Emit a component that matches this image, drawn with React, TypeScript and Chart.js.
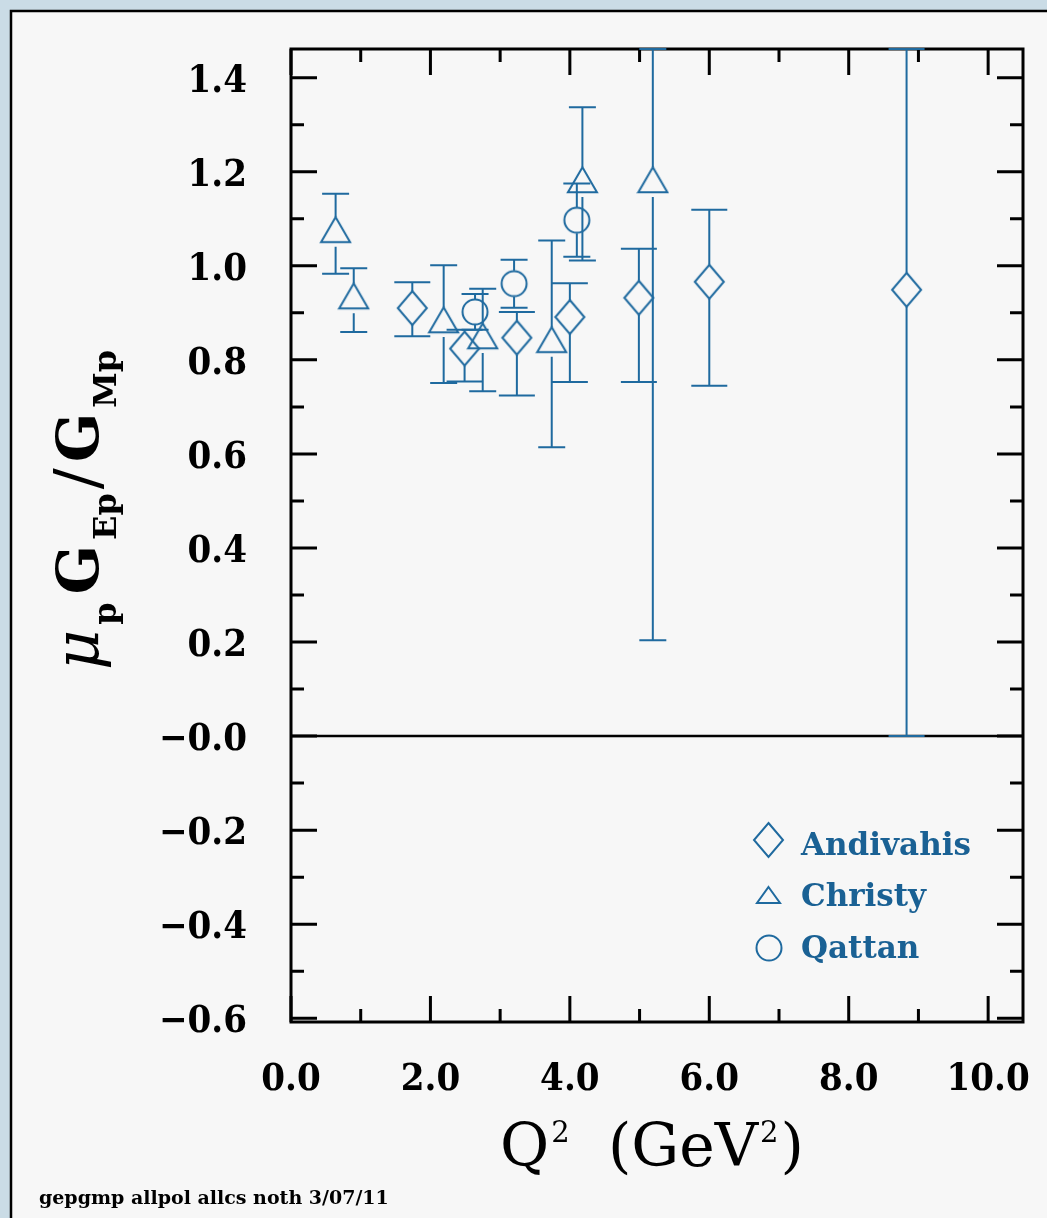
import React, { useEffect, useRef } from "react";
import { Chart, registerables } from "chart.js";

Chart.register(...registerables);

// ---------- data ----------
const andivahisQ2 = [1.74, 2.49, 3.24, 4.0, 4.99, 6.0, 8.83];
const andivahisRatio = [0.91, 0.824, 0.847, 0.891, 0.932, 0.966, 0.949];
const andivahisErrUp = [0.055, 0.04, 0.055, 0.072, 0.104, 0.153, 0.95];
const andivahisErrDown = [0.06, 0.07, 0.123, 0.138, 0.179, 0.221, 0.949];

const christyQ2 = [0.64, 0.9, 2.19, 2.75, 3.74, 4.18, 5.19];
const christyRatio = [1.068, 0.927, 0.876, 0.842, 0.834, 1.174, 1.174];
const christyErr = [0.085, 0.068, 0.125, 0.109, 0.22, 0.163, 0.97];

const qattanQ2 = [2.64, 3.2, 4.1];
const qattanRatio = [0.902, 0.962, 1.097];
const qattanErr = [0.038, 0.051, 0.078];

const seriesNames = ["Andivahis", "Christy", "Qattan"];

const xTickValues = [0, 2, 4, 6, 8, 10];
const xTickLabels = ["0.0", "2.0", "4.0", "6.0", "8.0", "10.0"];
const yTickValues = [-0.6, -0.4, -0.2, 0, 0.2, 0.4, 0.6, 0.8, 1.0, 1.2, 1.4];
const yTickLabels = ["\u22120.6", "\u22120.4", "\u22120.2", "\u22120.0", "0.2", "0.4", "0.6", "0.8", "1.0", "1.2", "1.4"];

const footnote = "gepgmp allpol allcs noth 3/07/11";

// ---------- styles ----------
const BLUE = "#1f6a9f";
const LEGEND_BLUE = "#1a6194";
const TICK_FONT = "bold 38px 'DejaVu Serif Condensed', 'DejaVu Serif', serif";

function pathDiamond(ctx: CanvasRenderingContext2D, cx: number, cy: number, w: number, h: number) {
  ctx.beginPath();
  ctx.moveTo(cx, cy - h / 2);
  ctx.lineTo(cx + w / 2, cy);
  ctx.lineTo(cx, cy + h / 2);
  ctx.lineTo(cx - w / 2, cy);
  ctx.closePath();
}
function pathTriangle(ctx: CanvasRenderingContext2D, cx: number, apexY: number, w: number, h: number) {
  ctx.beginPath();
  ctx.moveTo(cx, apexY);
  ctx.lineTo(cx + w / 2, apexY + h);
  ctx.lineTo(cx - w / 2, apexY + h);
  ctx.closePath();
}

function makeImg(W: number, H: number, draw: (c: CanvasRenderingContext2D) => void) {
  const c = document.createElement("canvas");
  c.width = W;
  c.height = H;
  const ctx = c.getContext("2d")!;
  ctx.strokeStyle = BLUE;
  ctx.lineWidth = 2;
  draw(ctx);
  return c;
}

const framePlugin = {
  id: "frame",
  beforeDraw(chart: any) {
    const ctx = chart.ctx as CanvasRenderingContext2D;
    ctx.save();
    ctx.fillStyle = "#cadce6";
    ctx.fillRect(0, 0, chart.width, chart.height);
    ctx.fillStyle = "#f7f7f7";
    ctx.fillRect(11, 11, chart.width - 11, chart.height - 11);
    ctx.strokeStyle = "#000";
    ctx.lineWidth = 2.5;
    ctx.beginPath();
    ctx.moveTo(11, chart.height);
    ctx.lineTo(11, 11);
    ctx.lineTo(chart.width, 11);
    ctx.stroke();
    ctx.restore();
  },
  beforeDatasetsDraw(chart: any) {
    const ctx = chart.ctx as CanvasRenderingContext2D;
    const { left, right, top, bottom } = chart.chartArea;
    const xs = chart.scales.x;
    const ys = chart.scales.y;
    ctx.save();
    ctx.strokeStyle = "#000";
    ctx.lineWidth = 3;
    ctx.strokeRect(left, top, right - left, bottom - top);
    ctx.beginPath();
    for (let k = -6; k <= 14; k++) {
      const py = ys.getPixelForValue(k / 10);
      const len = k % 2 === 0 ? 26 : 13;
      ctx.moveTo(left, py);
      ctx.lineTo(left + len, py);
      ctx.moveTo(right, py);
      ctx.lineTo(right - len, py);
    }
    for (let k = 0; k <= 10; k++) {
      const px = xs.getPixelForValue(k);
      const len = k % 2 === 0 ? 26 : 13;
      ctx.moveTo(px, bottom);
      ctx.lineTo(px, bottom - len);
      ctx.moveTo(px, top);
      ctx.lineTo(px, top + len);
    }
    ctx.stroke();
    // zero line
    ctx.lineWidth = 2.5;
    const y0 = ys.getPixelForValue(0);
    ctx.beginPath();
    ctx.moveTo(left, y0);
    ctx.lineTo(right, y0);
    ctx.stroke();
    ctx.restore();
  },
};

const errorBarPlugin = {
  id: "errbars",
  afterDatasetsDraw(chart: any) {
    const ctx = chart.ctx as CanvasRenderingContext2D;
    const xs = chart.scales.x;
    const ys = chart.scales.y;
    const yMin = ys.min;
    const yMax = ys.max;
    const groups = [
      { q: andivahisQ2, v: andivahisRatio, up: andivahisErrUp, dn: andivahisErrDown, gapUp: 17, gapDn: 17, cap: 36 },
      { q: christyQ2, v: christyRatio, up: christyErr, dn: christyErr, gapUp: 16.7, gapDn: 13, cap: 27 },
      { q: qattanQ2, v: qattanRatio, up: qattanErr, dn: qattanErr, gapUp: 13, gapDn: 13, cap: 27 },
    ];
    ctx.save();
    ctx.strokeStyle = BLUE;
    ctx.lineWidth = 2;
    for (const g of groups) {
      for (let i = 0; i < g.q.length; i++) {
        const px = xs.getPixelForValue(g.q[i]);
        const py = ys.getPixelForValue(g.v[i]);
        const pTop = ys.getPixelForValue(Math.min(g.v[i] + g.up[i], yMax));
        const pBot = ys.getPixelForValue(Math.max(g.v[i] - g.dn[i], yMin));
        ctx.beginPath();
        if (pTop < py - g.gapUp) {
          ctx.moveTo(px, py - g.gapUp);
          ctx.lineTo(px, pTop);
        }
        ctx.moveTo(px - g.cap / 2, pTop);
        ctx.lineTo(px + g.cap / 2, pTop);
        if (pBot > py + g.gapDn) {
          ctx.moveTo(px, py + g.gapDn);
          ctx.lineTo(px, pBot);
        }
        ctx.moveTo(px - g.cap / 2, pBot);
        ctx.lineTo(px + g.cap / 2, pBot);
        ctx.stroke();
      }
    }
    ctx.restore();
  },
};

const textPlugin = {
  id: "texts",
  afterDraw(chart: any) {
    const ctx = chart.ctx as CanvasRenderingContext2D;
    const xs = chart.scales.x;
    const ys = chart.scales.y;
    const { left, bottom } = chart.chartArea;
    ctx.save();
    ctx.fillStyle = "#000";
    ctx.font = TICK_FONT;
    // y tick labels
    ctx.textAlign = "right";
    ctx.textBaseline = "alphabetic";
    yTickValues.forEach((v, i) => {
      const py = ys.getPixelForValue(v);
      ctx.fillText(yTickLabels[i], left - 44, py + 14);
    });
    // x tick labels
    ctx.textAlign = "center";
    xTickValues.forEach((v, i) => {
      const px = xs.getPixelForValue(v);
      ctx.fillText(xTickLabels[i], px, bottom + 68);
    });

    // x title: Q^2 (GeV^2)
    const mainX = "60px 'DejaVu Serif', serif";
    const supX = "29px 'DejaVu Serif', serif";
    const xParts = [
      { t: "Q", f: mainX, dy: 0, gap: 2 },
      { t: "2", f: supX, dy: -24, gap: 0 },
      { t: "  (GeV", f: mainX, dy: 0, gap: 2 },
      { t: "2", f: supX, dy: -24, gap: 2 },
      { t: ")", f: mainX, dy: 0, gap: 0 },
    ];
    ctx.textAlign = "left";
    let total = 0;
    for (const p of xParts) {
      ctx.font = p.f;
      total += ctx.measureText(p.t).width + p.gap;
    }
    let cx = 652 - total / 2;
    for (const p of xParts) {
      ctx.font = p.f;
      ctx.fillText(p.t, cx, 1166 + p.dy);
      cx += ctx.measureText(p.t).width + p.gap;
    }

    // y title: mu_p G_Ep / G_Mp (rotated)
    const mainY = "bold 58px 'DejaVu Serif', serif";
    const subY = "bold 32px 'DejaVu Serif', serif";
    const yParts = [
      { t: "\u03bc", f: "italic 62px 'DejaVu Serif', serif", dy: 0, gap: 5 },
      { t: "p", f: subY, dy: 18, gap: 8 },
      { t: "G", f: mainY, dy: 0, gap: 5 },
      { t: "Ep", f: subY, dy: 18, gap: 4 },
      { t: "/", f: "62px 'DejaVu Serif', serif", dy: 0, gap: 6 },
      { t: "G", f: mainY, dy: 0, gap: 5 },
      { t: "Mp", f: subY, dy: 18, gap: 0 },
    ];
    let ytotal = 0;
    for (const p of yParts) {
      ctx.font = p.f;
      ytotal += ctx.measureText(p.t).width + p.gap;
    }
    ctx.translate(98, 510);
    ctx.rotate(-Math.PI / 2);
    let cy = -ytotal / 2;
    for (const p of yParts) {
      ctx.font = p.f;
      ctx.fillText(p.t, cy, p.dy);
      cy += ctx.measureText(p.t).width + p.gap;
    }
    ctx.setTransform(1, 0, 0, 1, 0, 0);

    // legend
    ctx.strokeStyle = BLUE;
    ctx.lineWidth = 2;
    pathDiamond(ctx, 768.5, 840, 29, 34);
    ctx.stroke();
    pathTriangle(ctx, 768.5, 887, 23, 16);
    ctx.stroke();
    ctx.beginPath();
    ctx.arc(769, 948, 12.5, 0, Math.PI * 2);
    ctx.stroke();
    ctx.fillStyle = LEGEND_BLUE;
    ctx.font = "bold 31px 'DejaVu Serif', serif";
    ctx.textAlign = "left";
    ctx.fillText(seriesNames[0], 801, 855);
    ctx.fillText(seriesNames[1], 801, 906);
    ctx.fillText(seriesNames[2], 801, 958);

    // footnote
    ctx.fillStyle = "#000";
    ctx.font = "bold 19px 'DejaVu Serif', serif";
    ctx.fillText(footnote, 39, 1204);
    ctx.restore();
  },
};

export default function App() {
  const ref = useRef<HTMLCanvasElement>(null);
  useEffect(() => {
    document.body.style.margin = "0";
    const canvas = ref.current!;
    const diamondImg = makeImg(33, 38, (c) => {
      pathDiamond(c, 16.5, 19, 29, 34);
      c.stroke();
    });
    const triH = 25;
    const triImg = makeImg(33, 38, (c) => {
      pathTriangle(c, 16.5, 19 - (2 * triH) / 3, 29, triH);
      c.stroke();
    });
    const circImg = makeImg(30, 30, (c) => {
      c.beginPath();
      c.arc(15, 15, 12.5, 0, Math.PI * 2);
      c.stroke();
    });
    const chart = new Chart(canvas, {
      type: "scatter",
      data: {
        datasets: [
          {
            label: seriesNames[0],
            data: andivahisQ2.map((x, i) => ({ x, y: andivahisRatio[i] })),
            pointStyle: diamondImg as any,
            pointRadius: 14,
            showLine: false,
          },
          {
            label: seriesNames[1],
            data: christyQ2.map((x, i) => ({ x, y: christyRatio[i] })),
            pointStyle: triImg as any,
            pointRadius: 14,
            showLine: false,
          },
          {
            label: seriesNames[2],
            data: qattanQ2.map((x, i) => ({ x, y: qattanRatio[i] })),
            pointStyle: circImg as any,
            pointRadius: 14,
            showLine: false,
          },
        ],
      },
      options: {
        responsive: false,
        animation: false,
        devicePixelRatio: 1,
        layout: { padding: { left: 291, top: 49, right: 24, bottom: 196 } },
        scales: {
          x: { type: "linear", min: 0, max: 10.5, display: false },
          y: { type: "linear", min: -0.608, max: 1.461, display: false },
        },
        plugins: { legend: { display: false }, tooltip: { enabled: false } },
      } as any,
      plugins: [framePlugin, errorBarPlugin, textPlugin],
    });
    return () => chart.destroy();
  }, []);
  return (
    <div style={{ position: "absolute", left: 0, top: 0, width: 1047, height: 1218 }}>
      <canvas ref={ref} width={1047} height={1218} style={{ display: "block" }} />
    </div>
  );
}
